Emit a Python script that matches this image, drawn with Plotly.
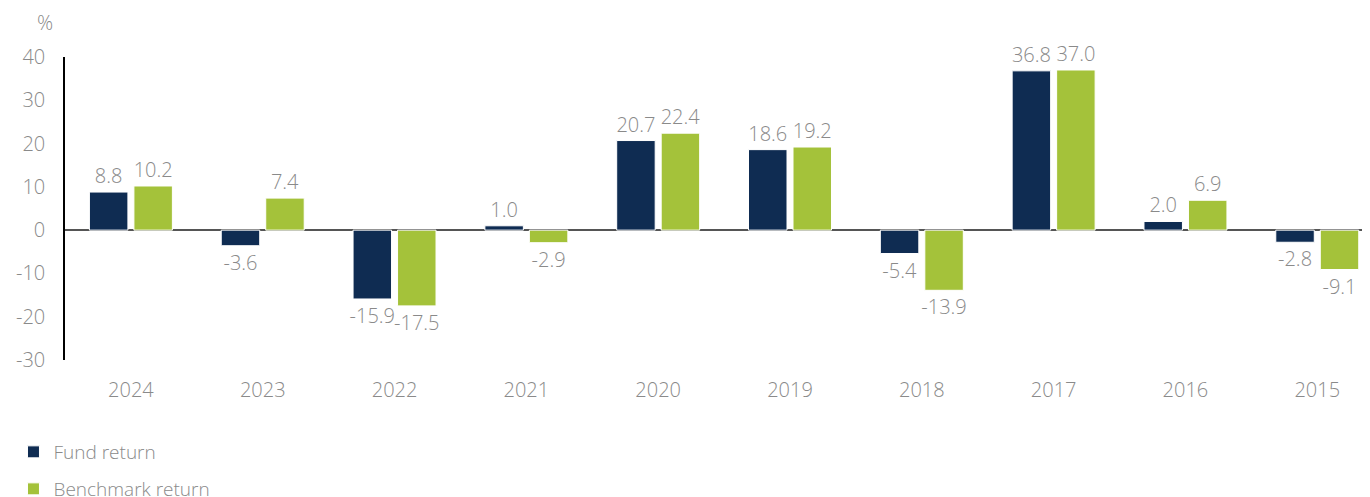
import plotly.graph_objects as go

years = ["2024", "2023", "2022", "2021", "2020", "2019", "2018", "2017", "2016", "2015"]
fund_return = [8.8, -3.6, -15.9, 1.0, 20.7, 18.6, -5.4, 36.8, 2.0, -2.8]
benchmark_return = [10.2, 7.4, -17.5, -2.9, 22.4, 19.2, -13.9, 37.0, 6.9, -9.1]
y_ticks = [-30, -20, -10, 0, 10, 20, 30, 40]
y_tick_labels = ["-30", "-20", "-10", "0", "10", "20", "30", "40"]

NAVY = "#0f2c52"
GREEN = "#a4c23a"
GREY = "#8a8a8a"
FONT = "Open Sans"
W = 300

fig = go.Figure()
for name, vals, col, leg in [("Fund return", fund_return, NAVY, "legend"),
                             ("Benchmark return", benchmark_return, GREEN, "legend2")]:
    fig.add_trace(go.Bar(
        x=years, y=vals, name=name, legend=leg,
        marker=dict(color=col, line=dict(color="white", width=1)),
        texttemplate="%{y:.1f}", textposition="outside",
        textfont=dict(family=FONT, size=20, color=GREY, weight=W),
        constraintext="none", cliponaxis=False,
    ))

leg_common = dict(orientation="v", xref="container", yref="container",
                  xanchor="left", yanchor="middle", bgcolor="rgba(0,0,0,0)",
                  font=dict(family=FONT, size=19, color=GREY, weight=W),
                  itemwidth=30)

fig.update_layout(
    width=1370, height=497,
    margin=dict(l=57, r=8, t=49, b=145, autoexpand=False),
    paper_bgcolor="white", plot_bgcolor="white",
    barmode="group", bargap=0.325, bargroupgap=0.135,
    font=dict(family=FONT, color=GREY, size=20, weight=W),
    showlegend=True,
    legend=dict(**leg_common, x=0.004, y=1 - 444 / 497),
    legend2=dict(**leg_common, x=0.004, y=1 - 481 / 497),
    xaxis=dict(showgrid=False, showline=False, zeroline=False, ticks="",
               automargin=False, range=[-0.5, 9.4],
               tickfont=dict(family=FONT, size=20, color=GREY, weight=W),
               ticklabelstandoff=16),
    yaxis=dict(range=[-30, 40], tickvals=y_ticks, ticktext=y_tick_labels,
               showgrid=False, automargin=False,
               showline=True, linecolor="black", linewidth=1.5,
               zeroline=True, zerolinecolor="#555555", zerolinewidth=2,
               ticks="", ticklabelstandoff=14,
               tickfont=dict(family=FONT, size=20, color=GREY, weight=W)),
    annotations=[dict(text="%", xref="paper", yref="paper",
                      x=-0.0153, y=1.1155,
                      xanchor="center", yanchor="middle", showarrow=False,
                      font=dict(family=FONT, size=20, color=GREY, weight=W))],
)

fig.write_html("out.html")
